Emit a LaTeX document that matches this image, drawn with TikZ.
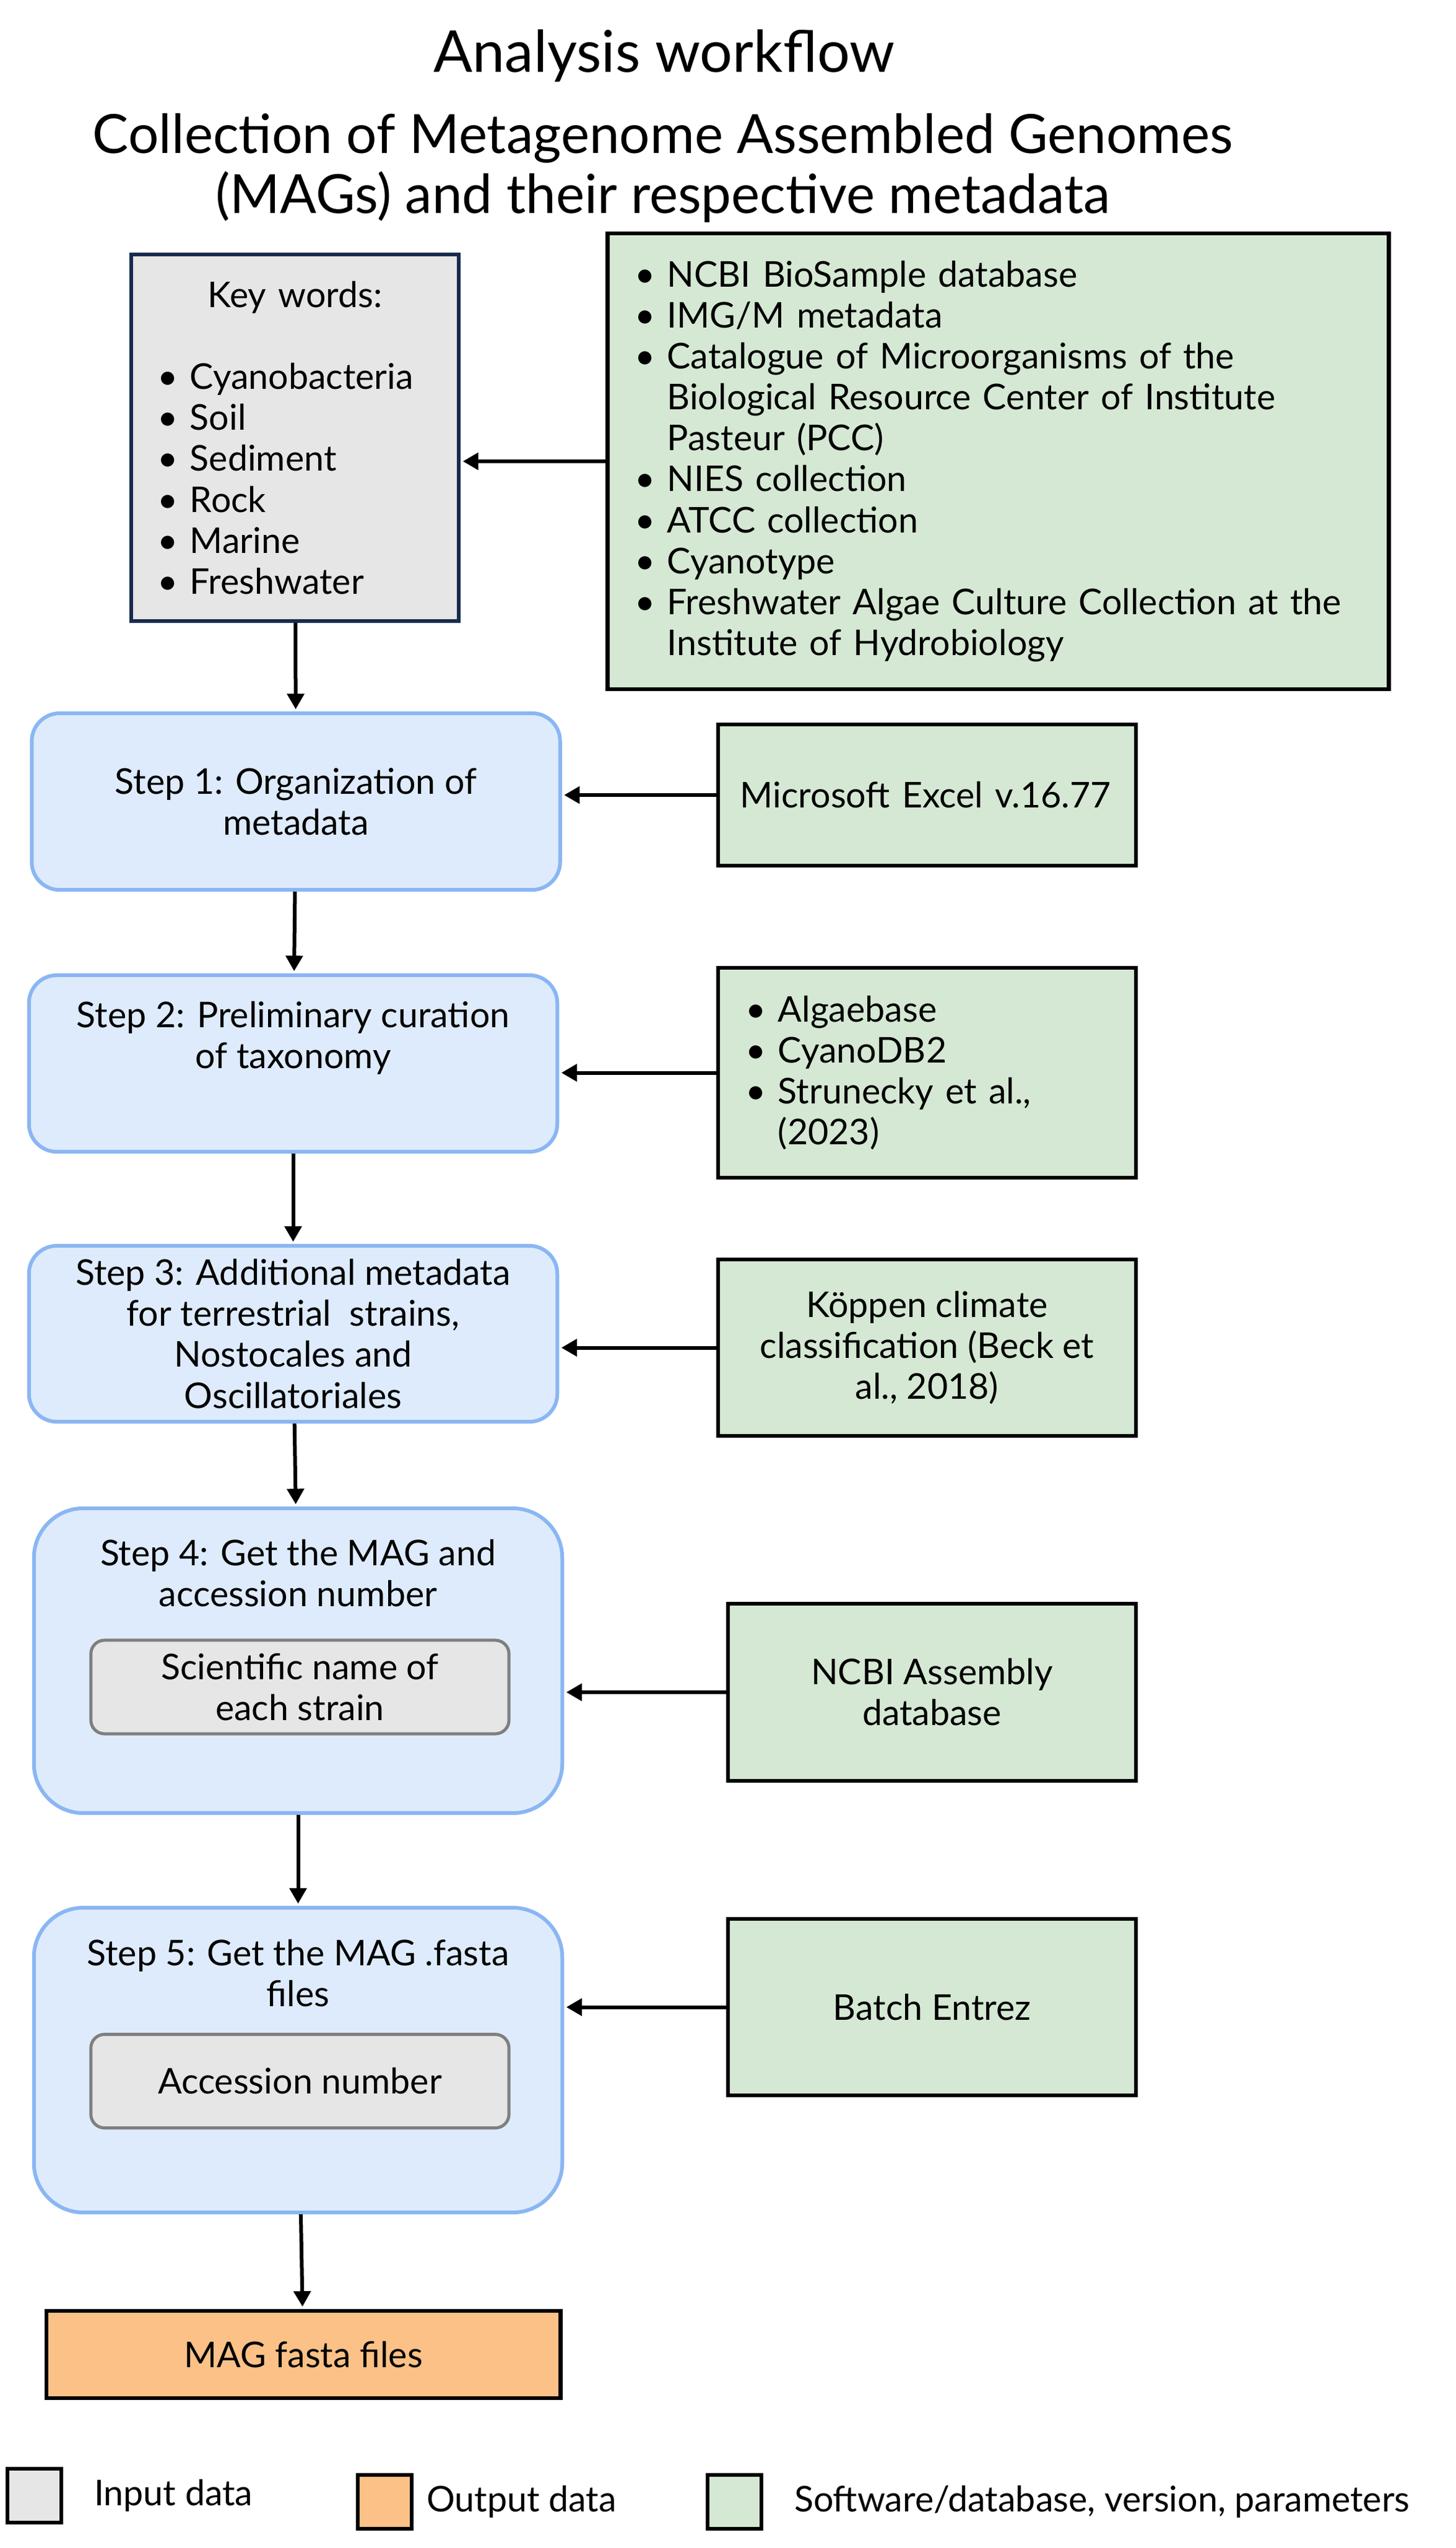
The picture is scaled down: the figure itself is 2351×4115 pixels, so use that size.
\documentclass[tikz,border=0pt]{standalone}
\usepackage{fontspec}
\setmainfont{Lato}
\usetikzlibrary{positioning,arrows.meta}

\definecolor{stepfill}{RGB}{222,235,252}
\definecolor{stepline}{RGB}{138,182,243}
\definecolor{navyline}{RGB}{23,43,77}
\definecolor{ingrey}{RGB}{230,230,230}
\definecolor{subline}{RGB}{127,127,127}
\definecolor{toolgreen}{RGB}{213,232,212}
\definecolor{outorange}{RGB}{251,193,135}

\newcommand{\bitem}{\makebox[0.52cm][l]{\textbullet}}
\newcommand{\bcont}{\hspace*{0.52cm}}

\begin{document}
\begin{tikzpicture}[%
    x=0.01cm, y=-0.01cm,
    >={Triangle[length=0.25cm,width=0.27cm]},
    shorten >=1pt,
    line width=0.06cm,
    every node/.style={font=\fontsize{16.3}{18.8}\selectfont},
    keybox/.style={draw=navyline, fill=ingrey, line width=0.06cm, inner sep=0.43cm,
                   text width=4.43cm, minimum height=5.76cm, align=left},
    toolbox/.style={draw, fill=toolgreen, line width=0.065cm, minimum width=6.75cm,
                    minimum height=2.85cm, align=center},
    stepbox/.style={draw=stepline, fill=stepfill, line width=0.06cm, rounded corners=0.45cm,
                    minimum width=8.53cm, minimum height=2.85cm, align=center},
    steptitle/.style={anchor=north, inner sep=0, align=center},
    subbox/.style={draw=subline, fill=ingrey, line width=0.05cm, rounded corners=0.22cm,
                   minimum width=6.75cm, minimum height=1.51cm, align=center},
    outbox/.style={draw, fill=outorange, line width=0.065cm, minimum width=8.30cm,
                   minimum height=1.41cm},
    legbox/.style={draw, line width=0.06cm, minimum size=0.87cm, inner sep=0},
    titletext/.style={font=\fontsize{26.5}{27.6}\selectfont, align=center},
  ]
    \useasboundingbox (0,0) rectangle (2351,4115);

    % titles
    \node[titletext, anchor=base] (ttl) at (1073,117) {Analysis workflow};
    \node[titletext, font=\fontsize{24.8}{27.6}\selectfont] (sub) at (1071,271)
        {Collection of Metagenome Assembled Genomes\\ (MAGs) and their respective metadata};

    % input and sources
    \node[keybox] (kw) at (476.5,707) {\makebox[\hsize]{Key words:}\\ ~\\
        \bitem Cyanobacteria\\ \bitem Soil\\ \bitem Sediment\\
        \bitem Rock\\ \bitem Marine\\ \bitem Freshwater};
    \node[toolbox, minimum width=12.61cm, minimum height=7.00cm, inner sep=0.44cm,
          text width=11.73cm, align=left] (src) at (1612.5,745) {%
        \bitem NCBI BioSample database\\
        \bitem IMG/M metadata\\
        \bitem Catalogue of Microorganisms of the\\
        \bcont Biological Resource Center of Institute\\
        \bcont Pasteur (PCC)\\
        \bitem NIES collection\\
        \bitem ATCC collection\\
        \bitem Cyanotype\\
        \bitem Freshwater Algae Culture Collection at the\\
        \bcont Institute of Hydrobiology};

    % steps
    \node[stepbox] (s1) at (478,1294.5) {Step 1: Organization of\\ metadata};
    \node[stepbox] (s2) at (473.5,1717.5) {};
    \node[steptitle] (s2t) at ([yshift=-0.42cm]s2.north) {Step 2: Preliminary curation\\ of taxonomy};
    \node[stepbox, minimum height=2.84cm] (s3) at (473.5,2154) {Step 3: Additional metadata\\
        for terrestrial~ strains,\\ Nostocales and\\ Oscillatoriales};
    \node[stepbox, minimum height=4.92cm, rounded corners=0.8cm] (s4) at (481.5,2682) {};
    \node[steptitle] (s4t) at ([yshift=-0.50cm]s4.north) {Step 4: Get the MAG and\\ accession number};
    \node[subbox] (n4) at (484.5,2724.5) {Scientific name of\\ each strain};
    \node[stepbox, minimum height=4.92cm, rounded corners=0.8cm] (s5) at (481.5,3327) {};
    \node[steptitle] (s5t) at ([yshift=-0.51cm]s5.north) {Step 5: Get the MAG .fasta\\ files};
    \node[subbox] (n5) at (484.5,3361) {Accession number};
    \node[outbox] (out) at (490,3802.5) {MAG fasta files};

    % software / databases
    \node[toolbox, minimum height=2.28cm, inner sep=0.36cm, text width=6.03cm,
          align=left] (xl) at (1497.5,1284) {Microsoft Excel v.16.77};
    \node[toolbox, inner sep=0.45cm, text width=5.85cm, align=left] (alg) at (1497.5,1732.5) {%
        \bitem Algaebase\\ \bitem CyanoDB2\\ \bitem Strunecky et al.,\\ \bcont (2023)};
    \node[toolbox] (kop) at (1497.5,2176.5) {K\"oppen climate\\ classification (Beck et\\ al., 2018)};
    \node[toolbox, minimum width=6.59cm, minimum height=2.86cm] (asm) at (1505.5,2733) {NCBI Assembly\\ database};
    \node[toolbox, minimum width=6.59cm] (bat) at (1505.5,3241.5) {Batch Entrez};

    \path[->] (src.west) edge (src.west -| kw.east)
              (kw)       edge (s1)
              (xl.west)  edge (xl.west -| s1.east)
              (s1)       edge (s2)
              (alg.west) edge (alg.west -| s2.east)
              (s2)       edge (s3)
              (kop.west) edge (kop.west -| s3.east)
              (s3)       edge (s4)
              (asm.west) edge (asm.west -| s4.east)
              (s4)       edge (s5)
              (bat.west) edge (bat.west -| s5.east)
              (s5)       edge (out)
              ;

    % legend
    \node[legbox, fill=ingrey] (lg1) at (55.5,4030.5) {};
    \node[right=0.47cm of lg1, inner sep=0] (lt1) {Input data};
    \node[legbox, fill=outorange] (lg2) at (621.5,4040.5) {};
    \node[right=0.18cm of lg2, inner sep=0] (lt2) {Output data};
    \node[legbox, fill=toolgreen] (lg3) at (1186.5,4040.5) {};
    \node[right=0.47cm of lg3, inner sep=0] (lt3) {Software/database, version, parameters};
  \end{tikzpicture}
\end{document}
